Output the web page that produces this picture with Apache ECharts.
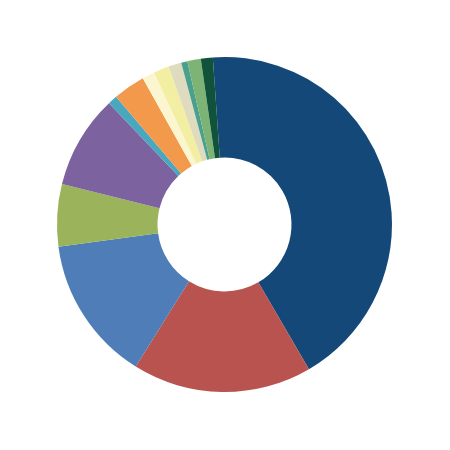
<!DOCTYPE html>
<html>
<head>
<meta charset="utf-8">
<script src="https://cdn.jsdelivr.net/npm/echarts@6/dist/echarts.min.js"></script>
<style>html,body{margin:0;padding:0;background:#fff;}#c{width:450px;height:450px;}</style>
</head>
<body>
<div id="c"></div>
<script>
const categories = ['A','B','C','D','E','F','G','H','I','J','K','L','M'];
const values = [42.7, 17.3, 14.0, 6.0, 9.0, 0.9, 3.1, 1.2, 1.5, 1.25, 0.6, 1.3, 1.15];
const colors = ['#134878','#b9534f','#4e7db7','#9bb35a','#7d62a0','#49a8bf','#f2994b','#fcf6d0','#f2eea2','#dfdbbf','#4aa08d','#7db475','#10533a'];

const chart = echarts.init(document.getElementById('c'), null, {renderer:'canvas'});
chart.setOption({
  animation: false,
  backgroundColor: '#ffffff',
  series: [{
    type: 'pie',
    center: [224.5, 224.5],
    radius: [67, 167.5],
    startAngle: 94,
    clockwise: true,
    label: {show: false},
    labelLine: {show: false},
    itemStyle: {borderWidth: 0},
    data: categories.map((c, i) => ({name: c, value: values[i], itemStyle: {color: colors[i]}}))
  }]
});
</script>
</body>
</html>
